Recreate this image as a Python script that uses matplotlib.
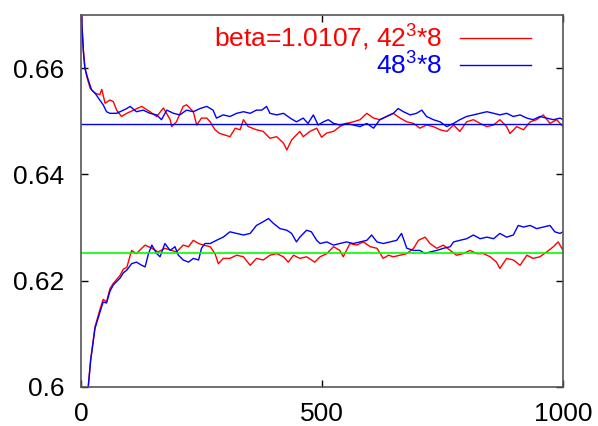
import numpy as np
import matplotlib
matplotlib.use('Agg')
import matplotlib.pyplot as plt

plt.rcParams['font.family'] = ['Liberation Sans', 'DejaVu Sans']
plt.rcParams['mathtext.fontset'] = 'custom'
plt.rcParams['mathtext.rm'] = 'Liberation Sans'
plt.rcParams['mathtext.it'] = 'Liberation Sans'

# values (x, value)
upper_42 = [(0, 0.675), (2, 0.668), (5, 0.6634), (8, 0.6602), (12, 0.6584), (19, 0.6562), (29, 0.6553),
            (39, 0.655), (43, 0.656), (50, 0.6534), (60, 0.654), (67, 0.6537), (74, 0.6521), (84, 0.6509),
            (95, 0.6515), (109, 0.6521), (126, 0.6528), (143, 0.6518), (157, 0.6509), (171, 0.6525),
            (185, 0.6503), (188, 0.649), (198, 0.6499), (212, 0.6528), (219, 0.6531), (233, 0.6518),
            (240, 0.6493), (250, 0.6506), (261, 0.6506), (268, 0.6499), (278, 0.6484), (288, 0.6477),
            (299, 0.6474), (309, 0.6471), (320, 0.6487), (330, 0.6484), (337, 0.6503), (347, 0.649),
            (364, 0.6484), (378, 0.6481), (392, 0.6468), (406, 0.6471), (420, 0.6459), (427, 0.6446),
            (437, 0.6465), (454, 0.6481), (461, 0.6471), (475, 0.6481), (489, 0.6487), (499, 0.647),
            (510, 0.6478), (524, 0.6481), (537, 0.649), (551, 0.6496), (565, 0.6499), (579, 0.6503),
            (593, 0.6515), (607, 0.6506), (620, 0.6503), (634, 0.6509), (648, 0.6515), (662, 0.6506),
            (676, 0.6499), (690, 0.6496), (703, 0.6487), (717, 0.6493), (731, 0.649), (745, 0.6484),
            (759, 0.6481), (773, 0.6493), (786, 0.6481), (800, 0.6499), (814, 0.6503), (828, 0.6496),
            (842, 0.649), (856, 0.6493), (869, 0.6503), (883, 0.649), (890, 0.6477), (904, 0.649),
            (918, 0.6484), (932, 0.6499), (945, 0.6503), (959, 0.6512), (973, 0.6496), (987, 0.6503),
            (1000, 0.649)]

upper_48 = [(0, 0.675), (2, 0.668), (5, 0.663), (8, 0.660), (15, 0.6578), (22, 0.6559), (29, 0.6553),
            (39, 0.654), (46, 0.6531), (53, 0.6518), (60, 0.6515), (74, 0.6515), (95, 0.6524), (102, 0.6528),
            (115, 0.6518), (129, 0.6521), (143, 0.6515), (157, 0.6512), (167, 0.6503), (178, 0.6521),
            (192, 0.6515), (205, 0.6512), (219, 0.6521), (233, 0.6518), (247, 0.6524), (261, 0.6528),
            (274, 0.6521), (281, 0.6506), (295, 0.6512), (309, 0.6509), (323, 0.6515), (337, 0.6518),
            (351, 0.6515), (364, 0.6521), (375, 0.6521), (385, 0.6528), (392, 0.6515), (406, 0.6512),
            (420, 0.6515), (434, 0.6506), (447, 0.6499), (461, 0.6506), (471, 0.6496), (482, 0.6512),
            (492, 0.6493), (503, 0.6499), (513, 0.6503), (524, 0.6496), (537, 0.6493), (551, 0.6496),
            (565, 0.6493), (579, 0.649), (593, 0.6496), (607, 0.6487), (620, 0.6503), (634, 0.6509),
            (648, 0.6515), (658, 0.6524), (669, 0.6518), (683, 0.6512), (696, 0.6515), (707, 0.6521),
            (717, 0.6509), (731, 0.6503), (745, 0.6499), (759, 0.649), (773, 0.6496), (786, 0.6503),
            (800, 0.6509), (814, 0.6512), (828, 0.6515), (842, 0.6518), (856, 0.6515), (869, 0.6512),
            (883, 0.6515), (897, 0.6509), (911, 0.6512), (925, 0.6506), (938, 0.6503), (952, 0.6509),
            (966, 0.6506), (980, 0.6503), (994, 0.6506), (1000, 0.6503)]

lower_42 = [(0, 0.585), (10, 0.596), (15, 0.600), (20, 0.6051), (29, 0.6113), (39, 0.6145), (46, 0.6165),
            (53, 0.616), (60, 0.6185), (67, 0.6195), (81, 0.621), (88, 0.6222), (95, 0.6225), (105, 0.6257),
            (115, 0.6251), (126, 0.6261), (133, 0.6267), (147, 0.6261), (160, 0.6254), (174, 0.6261),
            (188, 0.6257), (198, 0.6254), (212, 0.6267), (223, 0.6264), (233, 0.6276), (244, 0.627),
            (254, 0.6267), (268, 0.6264), (278, 0.6251), (285, 0.6232), (295, 0.6242), (309, 0.6242),
            (323, 0.6248), (337, 0.6245), (351, 0.6229), (364, 0.6242), (378, 0.6239), (392, 0.6248),
            (406, 0.6251), (420, 0.6245), (430, 0.6235), (441, 0.6248), (454, 0.6242), (468, 0.6245),
            (485, 0.6235), (496, 0.6245), (510, 0.6251), (524, 0.6264), (537, 0.6257), (544, 0.6245),
            (558, 0.627), (572, 0.6267), (586, 0.6273), (600, 0.6264), (614, 0.6261), (627, 0.6242),
            (638, 0.6248), (648, 0.6245), (662, 0.6248), (676, 0.6251), (690, 0.6261), (700, 0.6276),
            (714, 0.6282), (724, 0.627), (738, 0.6261), (752, 0.6267), (766, 0.6257), (779, 0.6248),
            (793, 0.6251), (807, 0.6257), (821, 0.6251), (835, 0.6251), (849, 0.6245), (862, 0.6235),
            (869, 0.6223), (883, 0.6242), (897, 0.6239), (911, 0.6229), (925, 0.6248), (938, 0.6242),
            (952, 0.6245), (966, 0.6254), (980, 0.6264), (990, 0.6273), (1000, 0.6257)]

lower_48 = [(0, 0.585), (10, 0.596), (15, 0.600), (20, 0.605), (29, 0.611), (39, 0.614), (46, 0.616),
            (53, 0.6158), (60, 0.618), (67, 0.6192), (81, 0.6205), (88, 0.6215), (95, 0.622), (105, 0.6232),
            (115, 0.6235), (126, 0.6229), (133, 0.6226), (140, 0.6251), (147, 0.6267), (157, 0.6251),
            (164, 0.6245), (174, 0.627), (185, 0.6257), (195, 0.6264), (202, 0.6248), (212, 0.6239),
            (223, 0.6235), (233, 0.6242), (244, 0.6239), (250, 0.6261), (257, 0.627), (268, 0.627),
            (281, 0.6276), (295, 0.6282), (309, 0.6292), (323, 0.6289), (337, 0.6286), (351, 0.6289),
            (364, 0.6304), (378, 0.6311), (389, 0.6317), (399, 0.6308), (413, 0.6298), (427, 0.6295),
            (437, 0.6289), (447, 0.6273), (454, 0.6282), (468, 0.6295), (478, 0.6292), (489, 0.6276),
            (496, 0.627), (510, 0.6273), (524, 0.6267), (537, 0.627), (551, 0.6273), (565, 0.627),
            (579, 0.6273), (593, 0.6276), (603, 0.6286), (614, 0.6273), (627, 0.627), (641, 0.6273),
            (655, 0.6276), (665, 0.6289), (676, 0.6261), (690, 0.6257), (703, 0.6257), (714, 0.6251),
            (724, 0.6254), (738, 0.6257), (752, 0.6261), (766, 0.6264), (773, 0.6273), (786, 0.6276),
            (800, 0.6279), (814, 0.6286), (828, 0.6279), (842, 0.6282), (856, 0.6279), (869, 0.6289),
            (883, 0.6282), (897, 0.6286), (907, 0.6304), (918, 0.6301), (932, 0.6304), (945, 0.6298),
            (959, 0.6301), (973, 0.6304), (983, 0.6292), (994, 0.6289), (1000, 0.6292)]

ref_upper = 0.6495
ref_lower = 0.6253
labels = ['beta=1.0107, 42$^3$*8', '48$^3$*8']

fig = plt.figure(figsize=(5.98, 4.26), dpi=100)
ax = fig.add_axes([81/598, 1-387/426, 482/598, 372/426])

u42 = np.array(upper_42).T
u48 = np.array(upper_48).T
l42 = np.array(lower_42).T
l48 = np.array(lower_48).T

r1, = ax.plot(u42[0], u42[1], color='#ff0000', lw=1.0)
ax.plot(l42[0], l42[1], color='#ff0000', lw=1.0)
b1, = ax.plot(u48[0], u48[1], color='#0000ff', lw=1.0)
ax.plot(l48[0], l48[1], color='#0000ff', lw=1.0)
ax.axhline(ref_upper, color='#0000ff', lw=1.0)
ax.axhline(ref_lower, color='#00ff00', lw=1.2)

ax.set_xlim(0, 1000)
ax.set_ylim(0.6, 0.67)
ax.set_xticks([0, 500, 1000])
ax.set_yticks([0.6, 0.62, 0.64, 0.66])
ax.set_yticklabels(['0.6', '0.62', '0.64', '0.66'])
ax.tick_params(direction='in', length=5, width=1, labelsize=19, top=True, right=True)
ax.tick_params(axis='y', pad=12)
ax.tick_params(axis='x', pad=11)
for s in ax.spines.values():
    s.set_color('#555555')
    s.set_linewidth(1.2)

ax.legend([r1, b1], labels, loc='upper right', bbox_to_anchor=(0.934, 0.978),
          frameon=False, markerfirst=False, labelcolor='linecolor', fontsize=19,
          handlelength=2.7, handletextpad=0.65, labelspacing=-0.05,
          borderpad=0, borderaxespad=0)

plt.savefig('out.png', dpi=100)
